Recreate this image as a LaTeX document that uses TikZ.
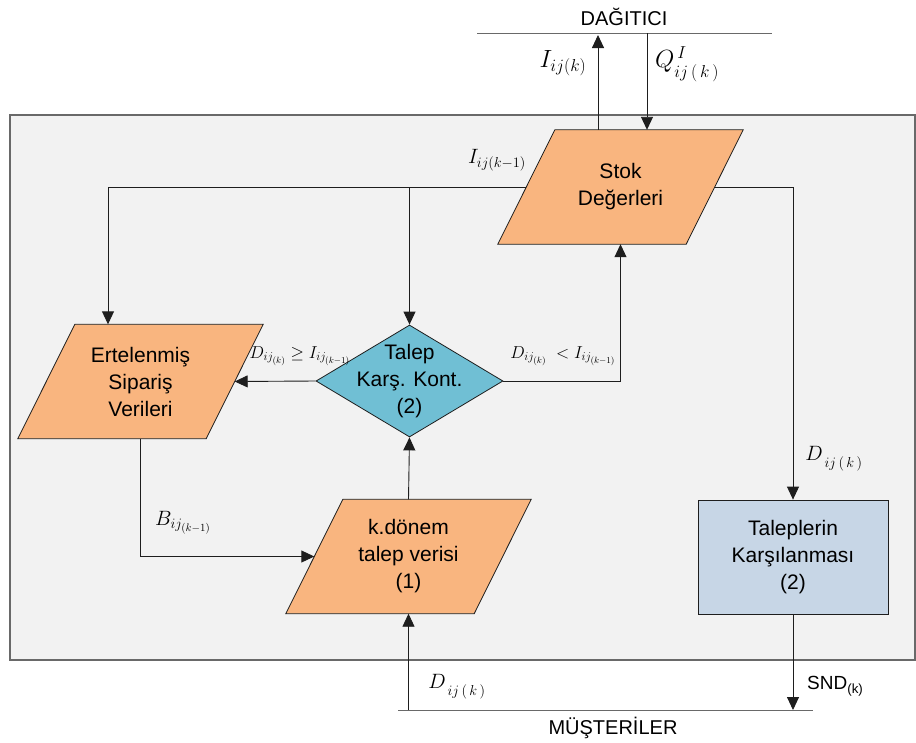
\documentclass[tikz,border=0pt]{standalone}
\usepackage{fontspec}
\setmainfont{Liberation Sans}
\usetikzlibrary{arrows.meta,shapes.geometric,calc}
\pgfdeclarelayer{back}
\pgfdeclarelayer{shapes}
\pgfsetlayers{back,shapes,main}
\definecolor{orangeF}{RGB}{249,181,127}
\definecolor{tealF}{RGB}{112,191,212}
\definecolor{blueF}{RGB}{199,214,230}
\definecolor{panelF}{RGB}{242,242,242}
\definecolor{panelD}{RGB}{105,105,105}
\definecolor{lineC}{RGB}{30,30,30}
% subscript set a little lower than usual
\newcommand{\lowsub}[1]{\raisebox{-4pt}{$\scriptstyle #1$}}
\begin{document}
\begin{tikzpicture}[x=1pt,y=-1pt,
  conn/.style={draw=lineC, line width=0.9pt, -{Triangle[length=13pt,width=12pt]}},
  plain/.style={draw=panelD, line width=1pt},
  boxtext/.style={align=center, inner sep=0pt, font=\fontsize{21}{27}\selectfont},
  pnode/.style={boxtext, rectangle, minimum width=188pt, minimum height=114pt},
  pshape/.style={fill=orangeF, draw=lineC, line width=0.8pt},
  mbig/.style={inner sep=0pt, font=\fontsize{26}{30}\selectfont},
  mmid/.style={inner sep=0pt, font=\fontsize{22}{26}\selectfont},
  msmall/.style={inner sep=0pt, font=\fontsize{18}{22}\selectfont},
  plabel/.style={inner sep=0pt, font=\fontsize{20}{24}\selectfont}]
\useasboundingbox (0,0) rectangle (916,742);

% process boxes
\node[pnode] (stok) at (620.5,187) {Stok\\Değerleri};
\node[pnode] (ert) at (140.5,381.5) {Ertelenmiş\\Sipariş\\Verileri};
\node[pnode] (kd) at (408.5,556.5) {k.dönem\\talep verisi\\(1)};
\node[diamond, minimum width=187pt, minimum height=112pt, inner sep=0pt,
      fill=tealF, draw=lineC, line width=0.8pt] (dia) at (409.5,381) {};
\node[boxtext] (diatxt) at (dia.center) {Talep\\Karş. Kont.\\(2)};
\node[boxtext, rectangle, minimum width=190pt, minimum height=114pt,
      fill=blueF, draw=lineC, line width=0.8pt] (tal) at (793,557) {Taleplerin\\Karşılanması\\(2)};

% panel and slanted data boxes behind the nodes
\begin{pgfonlayer}{back}
  \fill[panelF] (10,115) rectangle (915,660);
  \draw[panelD, line width=1.2pt] (10,115) rectangle (915,660);
\end{pgfonlayer}
\begin{pgfonlayer}{shapes}
  \foreach \n in {stok,ert,kd}{
    \draw[pshape] ($(\n.south west)+(-28.5,0)$) -- ($(\n.south east)+(-28.5,0)$)
      -- ($(\n.north east)+(28.5,0)$) -- ($(\n.north west)+(28.5,0)$) -- cycle;}
\end{pgfonlayer}

% distributor line
\coordinate (dL) at (477,33);
\coordinate (dR) at (772,33);
\draw[plain] (dL) -- (dR);
\node[plabel] (dag) at (624,17) {DAĞITICI};
\coordinate (upT) at (598,35);
\coordinate (dnT) at (647,33);
\draw[conn] (upT |- stok.north) -- (upT);
\draw[conn] (dnT) -- (dnT |- stok.north);

% customer line
\coordinate (mL) at (398,710);
\coordinate (mR) at (813,710);
\draw[plain] (mL) -- (mR);
\node[plabel] (mus) at (613,728) {MÜŞTERİLER};
\draw[conn] (kd.south |- mL) -- (kd.south);
\draw[conn] (tal.south) -- (tal.south |- mL);

% connectors inside the panel
\coordinate (lbr) at (108,187);
\draw[conn] (stok.west) -| (lbr |- ert.north);
\draw[conn] (stok.west -| dia.north) -- (dia.north);
\draw[conn] (stok.east) -| (tal.north);
\draw[conn] (dia.west) -- (ert.east);
\draw[conn] (dia.east) -| (stok.south);
\draw[conn] (kd.north) -- (dia.south);
\draw[conn] (ert.south) |- (kd.west);

% flow labels
\node[mbig] (lI) at (563,63) {$I_{ij(k)}$};
\node[mbig] (lQ) at (687,64) {$Q^{\,I}_{\lowsub{ij\,(\,k\,)}}$};
\node[mmid] (lIk) at (497,160) {$I_{ij(k-1)}$};
\node[msmall] (lge) at (300,356) {$D_{ij_{(k)}}\geq I_{ij_{(k-1)}}$};
\node[msmall] (llt) at (563,356) {$D_{ij_{(k)}}\;<I_{ij_{(k-1)}}$};
\node[mmid] (lD1) at (834,459) {$D_{\lowsub{\,ij\,(\,k\,)}}$};
\node[mmid] (lB) at (183,523) {$B_{ij_{(k-1)}}$};
\node[mmid] (lD2) at (457,687) {$D_{\lowsub{\,ij\,(\,k\,)}}$};
\node[plabel, anchor=west, font=\fontsize{19}{23}\selectfont] (snd) at (807,686) {SND\textsubscript{(k)}};
\end{tikzpicture}
\end{document}
